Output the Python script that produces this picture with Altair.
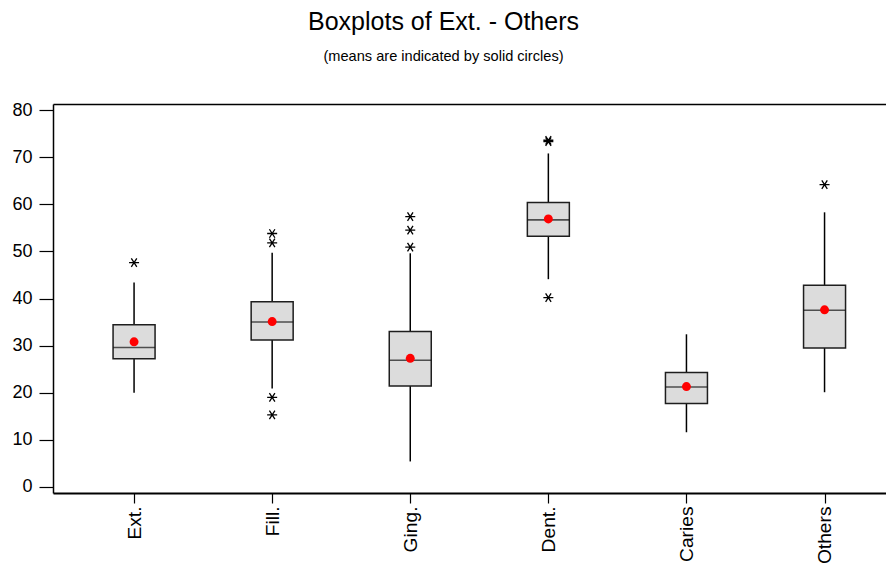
import altair as alt
import pandas as pd

categories = ["Ext.", "Fill.", "Ging.", "Dent.", "Caries", "Others"]
whisker_low = [20.0, 20.9, 5.4, 44.1, 11.6, 20.1]
q1 = [27.2, 31.2, 21.4, 53.2, 17.7, 29.5]
median = [29.6, 35.0, 26.9, 56.7, 21.2, 37.5]
q3 = [34.4, 39.3, 33.0, 60.4, 24.3, 42.8]
whisker_high = [43.4, 49.7, 49.6, 70.8, 32.4, 58.3]
means = [30.8, 35.1, 27.3, 56.9, 21.3, 37.6]

out_cat = ["Ext.", "Fill.", "Fill.", "Fill.", "Fill.", "Ging.", "Ging.", "Ging.",
           "Dent.", "Dent.", "Dent.", "Others"]
out_val = [47.6, 53.8, 51.8, 19.0, 15.3, 57.4, 54.5, 50.9, 73.6, 73.3, 40.2, 64.2]

y_ticks = [0, 10, 20, 30, 40, 50, 60, 70, 80]

box_df = pd.DataFrame({
    "cat": categories,
    "idx": list(range(len(categories))),
    "lo": whisker_low, "q1": q1, "med": median, "q3": q3,
    "hi": whisker_high, "mean": means,
})
out_df = pd.DataFrame({"cat": out_cat, "val": out_val})
out_df["idx"] = [categories.index(c) for c in out_cat]

FONT = "Liberation Sans"
label_expr = "[" + ",".join("'%s'" % c for c in categories) + "][datum.value]"

xscale = alt.Scale(domain=[-0.587, 5.445], nice=False, zero=False, padding=0)
yscale = alt.Scale(domain=[-1.3, 81.3], nice=False, zero=False, padding=0)

x_bottom = alt.Axis(orient="bottom", values=list(range(len(categories))), labelExpr=label_expr,
                    labelAngle=-90, labelAlign="right", labelBaseline="middle",
                    tickSize=10, labelPadding=3, labelFontSize=19.2, labelFont=FONT,
                    labelColor="black", labelFlush=False, labelOverlap=False,
                    grid=False, title=None, domainColor="black", domainWidth=2,
                    tickColor="black", tickWidth=1.2)
x_top = alt.Axis(orient="top", labels=False, ticks=False, domain=True,
                 domainColor="black", domainWidth=1.5, grid=False, title=None)
y_axis = alt.Axis(orient="left", values=y_ticks, tickSize=14, labelPadding=7,
                  labelFontSize=18, labelFont=FONT, labelColor="black", grid=False,
                  title=None, domainColor="black", domainWidth=1.5,
                  tickColor="black", tickWidth=1.2)

STAR = "M-1,0L1,0M-0.55,-0.85L0.55,0.85M-0.55,0.85L0.55,-0.85"

Y = lambda f: alt.Y(f, scale=yscale, axis=y_axis)

whisk = alt.Chart(box_df).mark_rule(color="black", strokeWidth=1.5).encode(
    x=alt.X("idx:Q", scale=xscale, axis=x_bottom),
    y=Y("lo:Q"),
    y2="hi:Q",
)
box = alt.Chart(box_df).mark_bar(size=42, fill="#dcdcdc", stroke="#1e1e1e",
                                 strokeWidth=1.5).encode(
    x=alt.X("idx:Q", scale=xscale, axis=None),
    y=Y("q1:Q"),
    y2="q3:Q",
)
med = alt.Chart(box_df).mark_tick(orient="horizontal", size=42, thickness=1.6,
                                  color="#111111").encode(
    x=alt.X("idx:Q", scale=xscale, axis=None),
    y=Y("med:Q"),
)
mean = alt.Chart(box_df).mark_point(shape="circle", filled=True, color="#ff0000",
                                    size=80, opacity=1).encode(
    x=alt.X("idx:Q", scale=xscale, axis=x_top),
    y=Y("mean:Q"),
)
outl = alt.Chart(out_df).mark_point(shape=STAR, filled=False, stroke="black",
                                    strokeWidth=1.3, size=100, opacity=1).encode(
    x=alt.X("idx:Q", scale=xscale, axis=None),
    y=Y("val:Q"),
)

chart = alt.layer(whisk, box, med, mean, outl).properties(
    width=833, height=389,
    autosize=alt.AutoSizeParams(type="none"),
    padding={"left": 45, "top": 96, "right": 0, "bottom": 71},
    title=alt.TitleParams(
        text="Boxplots of Ext. - Others",
        subtitle="(means are indicated by solid circles)",
        font=FONT, subtitleFont=FONT, fontSize=25, subtitleFontSize=14.6,
        fontWeight="normal", color="black", subtitleColor="black",
        anchor="middle", dx=-26, offset=38, subtitlePadding=14,
    ),
).configure_view(strokeWidth=0)

chart.save("out.html", embed_options={"renderer": "svg", "actions": False})
